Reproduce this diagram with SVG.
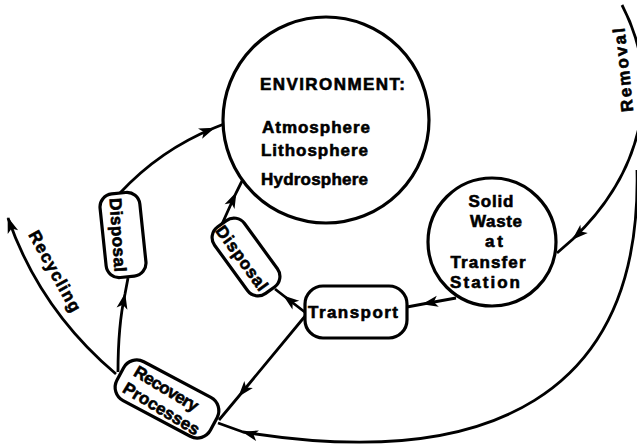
<svg xmlns="http://www.w3.org/2000/svg" width="637" height="444" viewBox="0 0 637 444">
<defs>
<style>
.node{fill:#fff;stroke:#000;stroke-width:3.2}
.conn{fill:none;stroke:#000;stroke-width:2.8}
.mid{marker-mid:url(#ah)}
.end{marker-end:url(#ah)}
.t{font-family:"Liberation Sans",Arial,sans-serif;font-weight:bold;font-size:17px;fill:#000;stroke:#000;stroke-width:0.6}
.c{text-anchor:middle}
</style>
<marker id="ah" markerUnits="userSpaceOnUse" markerWidth="18" markerHeight="12" refX="15" refY="5.5" orient="auto" overflow="visible">
<path d="M0,0 L16,5.5 L0,11 L4,5.5 Z" fill="#000"/>
</marker>
</defs>
<rect width="637" height="444" fill="#fff"/>
<g id="connectors">
<path class="conn mid" d="M120,193 Q160,150 214,128 L224,124"/>
<path class="conn mid" d="M222,224 L236,193 L242,181"/>
<path class="conn mid" d="M306,313 L284,296 L275,289"/>
<path class="conn mid" d="M306,315 L239,396 L219,420"/>
<path class="conn mid" d="M456,298 L423,304 L407,307"/>
<path class="conn mid" d="M118,372 C118,340 121,312 125,294 L128,278"/>
<path class="conn end" d="M116,374 Q40,310 8,218"/>
<path class="conn mid" d="M622,5 C662,82 645,170 573,239 L557,253"/>
<path class="conn mid" d="M637,170 C642,395 490,472 243,432 L218,423"/>
<text class="t c" transform="translate(623,70) rotate(-96)" y="6" textLength="84" lengthAdjust="spacing">Removal</text>
<text class="t c" transform="translate(55,271) rotate(61)" y="6" textLength="90" lengthAdjust="spacing">Recycling</text>
</g>
<g id="environment">
<circle class="node" cx="326" cy="120" r="103"/>
<text class="t" x="260" y="90" font-size="17" textLength="145" lengthAdjust="spacing">ENVIRONMENT:</text>
<text class="t" x="262" y="133" textLength="108" lengthAdjust="spacing">Atmosphere</text>
<text class="t" x="261" y="156" textLength="107" lengthAdjust="spacing">Lithosphere</text>
<text class="t" x="261" y="185" textLength="107" lengthAdjust="spacing">Hydrosphere</text>
</g>
<g id="solid-waste">
<circle class="node" cx="492" cy="242" r="64"/>
<text class="t c" x="491" y="207" textLength="45" lengthAdjust="spacing">Solid</text>
<text class="t c" x="496" y="227" textLength="52" lengthAdjust="spacing">Waste</text>
<text class="t c" x="494" y="247" textLength="18" lengthAdjust="spacing">at</text>
<text class="t c" x="488" y="268" textLength="75" lengthAdjust="spacing">Transfer</text>
<text class="t c" x="485" y="288" textLength="70" lengthAdjust="spacing">Station</text>
</g>
<g id="transport">
<rect class="node" x="305" y="286" width="102" height="52" rx="18"/>
<text class="t c" x="353" y="318" textLength="90" lengthAdjust="spacing">Transport</text>
</g>
<g id="disposal-1">
<rect class="node" x="-20" y="-42" width="40" height="84" rx="13" transform="translate(123,235) rotate(-6)"/>
<text class="t c" transform="translate(118,235) rotate(86)" y="6" textLength="74" lengthAdjust="spacing">Disposal</text>
</g>
<g id="disposal-2">
<rect class="node" x="-18.5" y="-41" width="37" height="82" rx="13" transform="translate(246,257) rotate(-36)"/>
<text class="t c" transform="translate(242,258) rotate(54)" y="6" textLength="76" lengthAdjust="spacing">Disposal</text>
</g>
<g id="recovery">
<rect class="node" x="-53" y="-22" width="106" height="44" rx="15" transform="translate(167,399) rotate(28)"/>
<text class="t c" transform="translate(166.5,388.5) rotate(31)" y="6" textLength="72" lengthAdjust="spacing">Recovery</text>
<text class="t c" transform="translate(161.5,408.5) rotate(31)" y="6" textLength="86" lengthAdjust="spacing">Processes</text>
</g>
</svg>
